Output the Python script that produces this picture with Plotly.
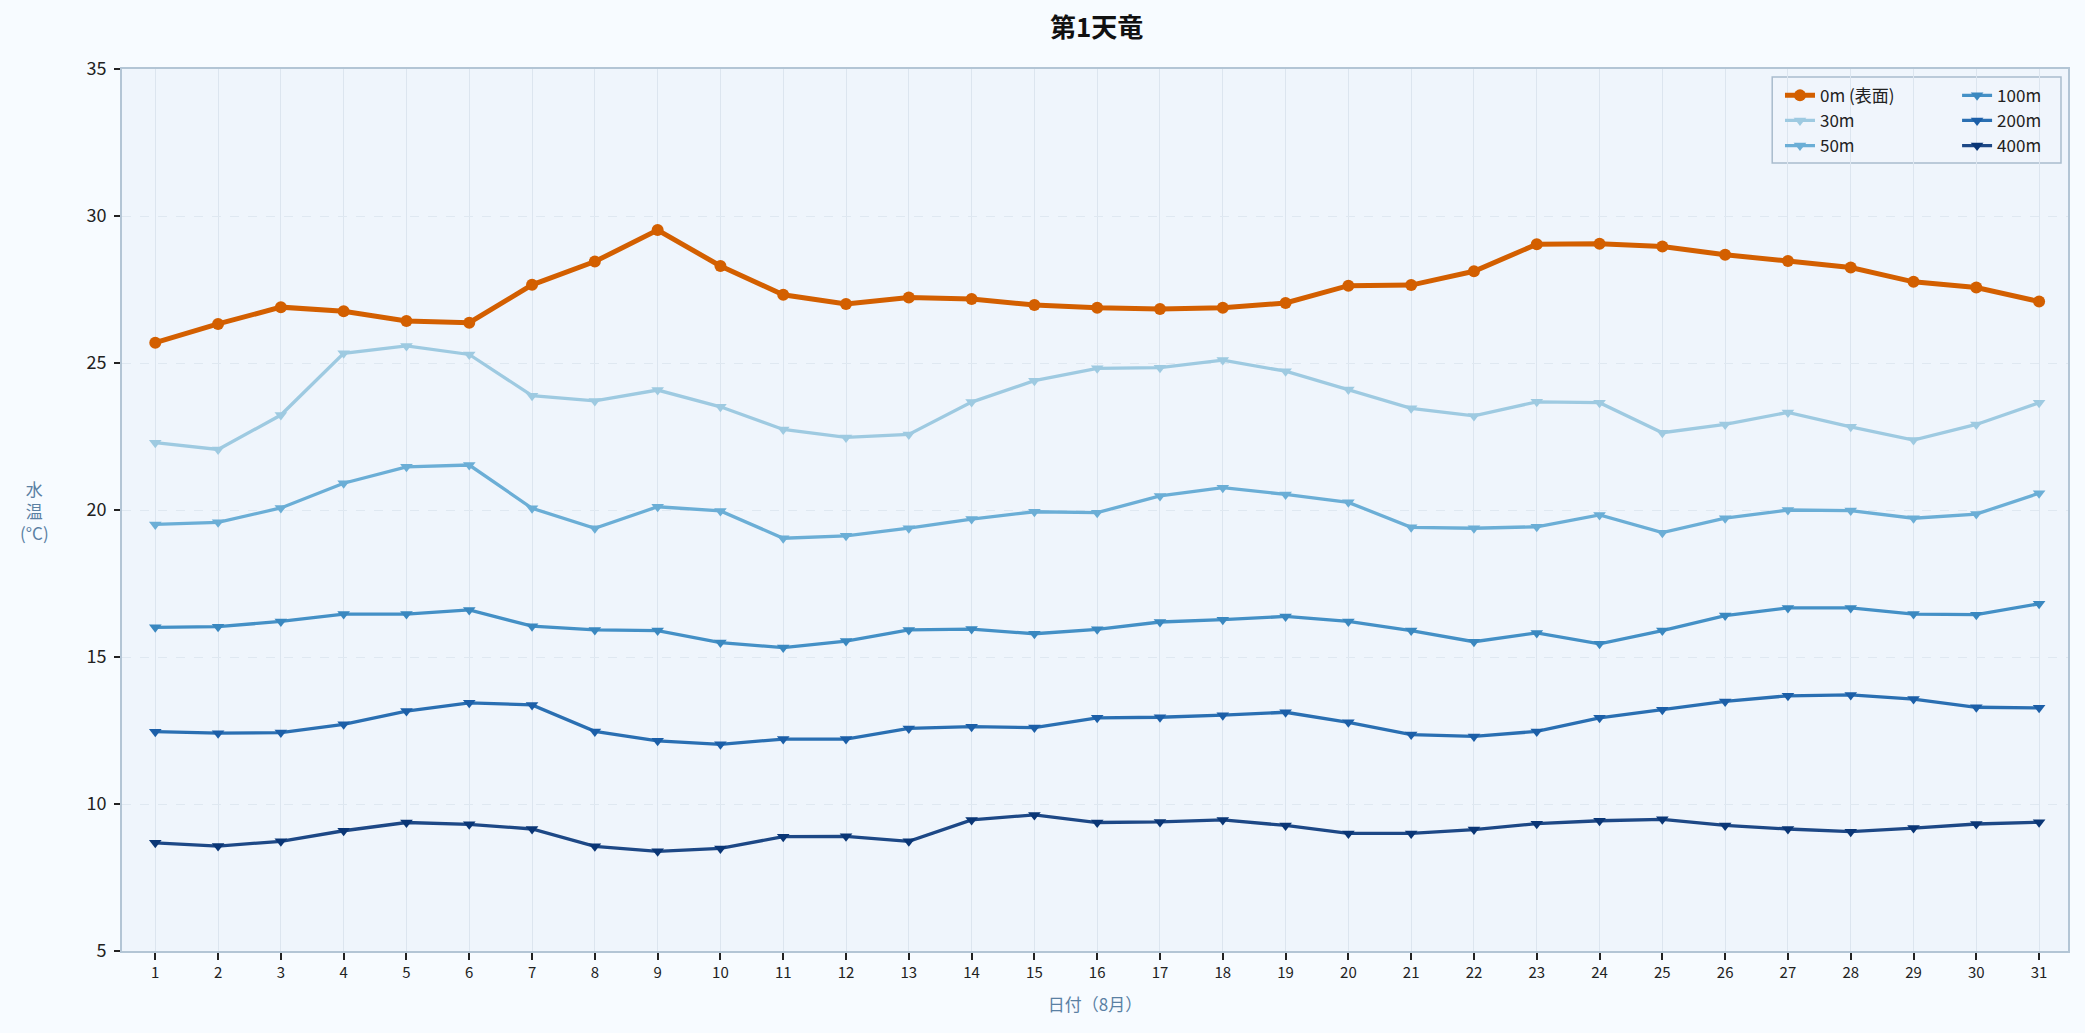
import plotly.graph_objects as go

# 8月の日付
days = list(range(1, 32))

# 深度別の水温 (°C)
t_0m = [25.69, 26.33, 26.90, 26.76, 26.43, 26.37, 27.66, 28.45, 29.52, 28.30,
        27.32, 27.01, 27.23, 27.18, 26.97, 26.88, 26.84, 26.88, 27.04, 27.63,
        27.65, 28.12, 29.04, 29.06, 28.96, 28.68, 28.47, 28.25, 27.76, 27.57, 27.09]
t_30m = [22.29, 22.06, 23.23, 25.33, 25.58, 25.29, 23.89, 23.71, 24.08, 23.51,
         22.74, 22.47, 22.57, 23.67, 24.40, 24.82, 24.84, 25.10, 24.72, 24.10,
         23.46, 23.20, 23.68, 23.65, 22.63, 22.91, 23.32, 22.83, 22.38, 22.91, 23.65]
t_50m = [19.51, 19.58, 20.07, 20.91, 21.47, 21.53, 20.06, 19.38, 20.11, 19.97,
         19.04, 19.12, 19.38, 19.69, 19.94, 19.91, 20.48, 20.76, 20.53, 20.26,
         19.41, 19.38, 19.43, 19.83, 19.23, 19.72, 20.00, 19.98, 19.72, 19.86, 20.57]
t_100m = [16.01, 16.03, 16.21, 16.46, 16.46, 16.60, 16.05, 15.92, 15.90, 15.49,
          15.32, 15.54, 15.92, 15.95, 15.79, 15.94, 16.19, 16.27, 16.38, 16.21,
          15.90, 15.52, 15.82, 15.45, 15.90, 16.41, 16.67, 16.67, 16.46, 16.44, 16.81]
t_200m = [12.46, 12.41, 12.43, 12.71, 13.16, 13.44, 13.37, 12.47, 12.15, 12.03,
          12.21, 12.21, 12.57, 12.63, 12.60, 12.93, 12.95, 13.02, 13.12, 12.78,
          12.36, 12.30, 12.47, 12.93, 13.21, 13.49, 13.68, 13.71, 13.57, 13.29, 13.27]
t_400m = [8.68, 8.57, 8.73, 9.09, 9.37, 9.31, 9.15, 8.56, 8.39, 8.49,
          8.89, 8.90, 8.73, 9.46, 9.63, 9.37, 9.39, 9.46, 9.27, 9.00,
          9.00, 9.13, 9.33, 9.43, 9.48, 9.27, 9.15, 9.06, 9.18, 9.32, 9.38]

FONT = "Noto Sans CJK JP"
LABEL_COLOR = "#5a80a3"

fig = go.Figure()

# 表面
fig.add_trace(go.Scatter(
    x=days, y=t_0m, name="0m (表面)", mode="lines+markers",
    line=dict(color="#d35f00", width=5),
    marker=dict(symbol="circle", size=12, color="#d35f00"),
    legend="legend",
))

# 深層 (青系)
deep = [
    ("30m", t_30m, "#9ecae1", "#9ecae1", "legend"),
    ("50m", t_50m, "#6baed6", "#6baed6", "legend"),
    ("100m", t_100m, "#4490c6", "#3a88c0", "legend2"),
    ("200m", t_200m, "#2a6fb2", "#1c5fa8", "legend2"),
    ("400m", t_400m, "#1d4886", "#0a3676", "legend2"),
]
for name, vals, lc, mc, lg in deep:
    fig.add_trace(go.Scatter(
        x=days, y=vals, name=name, mode="lines+markers",
        line=dict(color=lc, width=3.3),
        marker=dict(symbol="triangle-down", size=11, color=mc),
        legend=lg,
    ))

legend_common = dict(
    bgcolor="rgba(0,0,0,0)", borderwidth=0,
    font=dict(family=FONT, size=17, color="#222"),
    yanchor="top", xanchor="left", y=0.99,
    tracegroupgap=0,
)

fig.update_layout(
    width=2085, height=1033,
    paper_bgcolor="#f7fbff",
    plot_bgcolor="#eff5fc",
    margin=dict(l=122, r=17, t=69, b=82),
    font=dict(family=FONT, color="#222"),
    title=dict(text="<b>第1天竜</b>", x=0.526, xanchor="center", y=0.973,
               yanchor="middle", font=dict(family=FONT, size=26, color="#111")),
    legend=dict(x=0.852, **legend_common),
    legend2=dict(x=0.943, **legend_common),
    showlegend=True,
    shapes=[dict(
        type="rect", xref="paper", yref="paper",
        x0=0.848, x1=0.9964, y0=0.8934, y1=0.991,
        line=dict(color="#a9bccd", width=1.5),
        fillcolor="rgba(240,245,252,0.9)", layer="below",
    )],
)

fig.update_xaxes(
    range=[0.47, 31.46], tickmode="array", tickvals=days,
    ticks="outside", ticklen=7, tickwidth=1.5, tickcolor="#222",
    tickfont=dict(family=FONT, size=15, color="#222"),
    showgrid=True, gridcolor="#dce5ef", gridwidth=1,
    showline=True, linecolor="#b3c5d5", linewidth=2, mirror=True,
    zeroline=False,
    title=dict(text="日付（8月）", font=dict(family=FONT, size=17, color=LABEL_COLOR),
               standoff=18),
)
fig.update_yaxes(
    range=[5, 35], dtick=5,
    ticks="outside", ticklen=6, tickwidth=2, tickcolor="#222",
    tickfont=dict(family=FONT, size=18, color="#222"),
    ticklabelstandoff=4,
    showgrid=True, gridcolor="#dfe8f1", gridwidth=1, griddash="dash",
    showline=True, linecolor="#b3c5d5", linewidth=2, mirror=True,
    zeroline=False,
    title=dict(text=""),
)

# y軸タイトル (横書きで縦に並べる)
fig.add_annotation(
    text="水<br>温<br>(°C)", xref="paper", yref="paper",
    x=-0.045, y=0.5, xanchor="center", yanchor="middle", showarrow=False,
    font=dict(family=FONT, size=17, color=LABEL_COLOR),
)

# ページ余白を消して図を左上に合わせる
fig.write_html(
    "out.html",
    config={"displayModeBar": False},
    post_script="document.body.style.margin='0';document.body.style.background='#f7fbff';",
)
